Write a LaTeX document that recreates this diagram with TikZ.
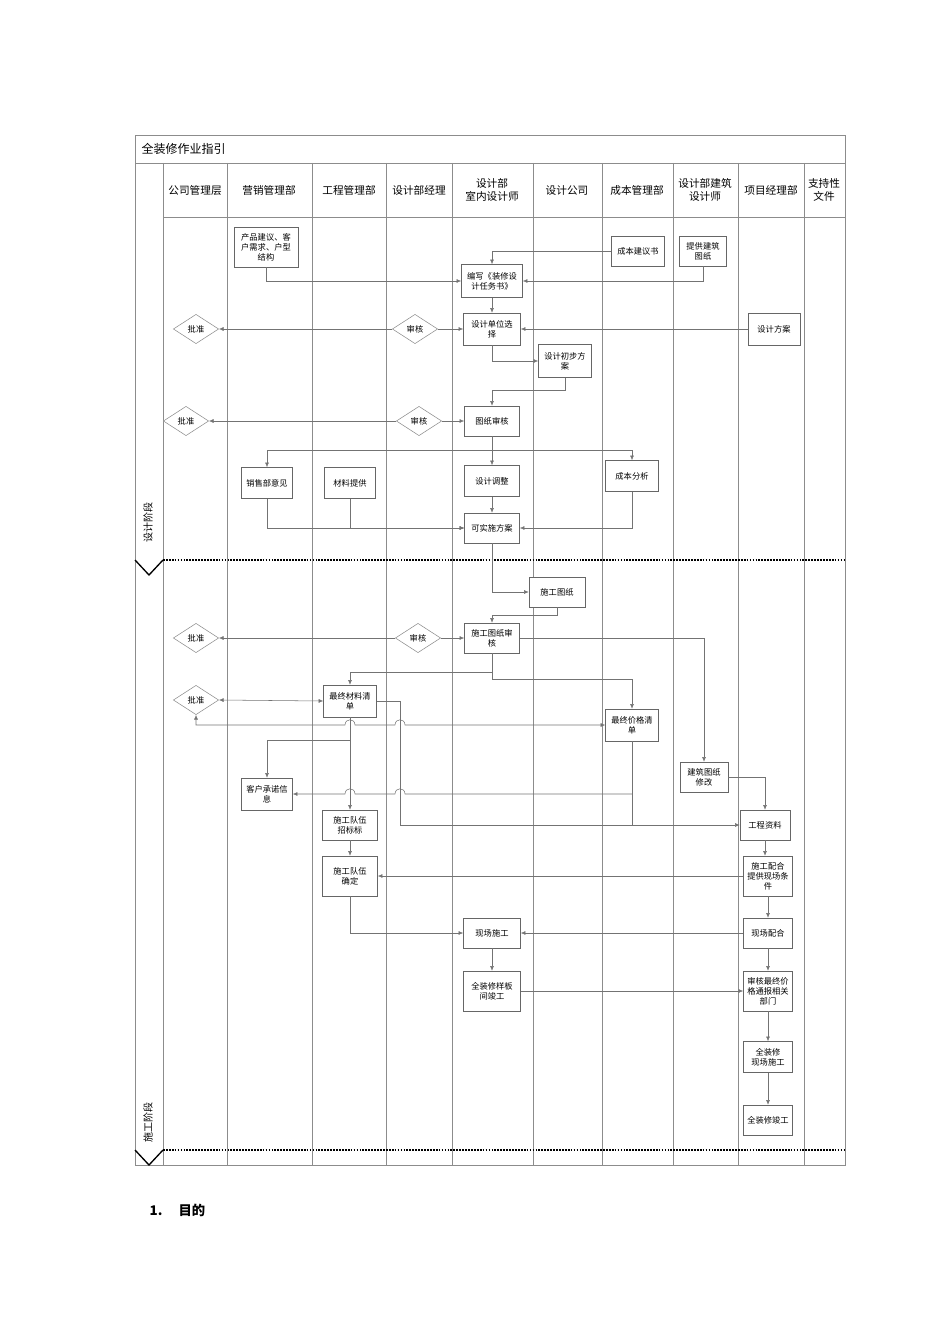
\documentclass[tikz,border=0pt]{standalone}
\usepackage{fontspec}
\newfontfamily\cjk{Noto Sans CJK SC}
\usetikzlibrary{arrows.meta,shapes.geometric}
\tikzset{
  box/.style={draw=black!60,fill=white,align=center,inner sep=1pt,font=\cjk\fontsize{6.2}{7.5}\selectfont,drop/.style={}},
  dia/.style={diamond,draw=black!45,fill=white,aspect=1.6,inner sep=1pt,minimum width=34pt,minimum height=22pt,font=\cjk\fontsize{6.2}{7.5}\selectfont},
  ln/.style={draw=black!55,line width=0.4pt},
  arr/.style={ln,-{Latex[length=3.5pt,width=3pt]}},
  barr/.style={ln,{Latex[length=3.5pt,width=3pt]}-{Latex[length=3.5pt,width=3pt]}},
  grid/.style={draw=black!45,line width=0.4pt},
  sep/.style={draw=black,line width=2.2pt,dash pattern=on 1.3pt off 0.9pt},
  hdr/.style={align=center,font=\cjk\fontsize{8}{10}\selectfont}
}
\newcommand\bx[5]{\node[box,minimum width=#3*0.75pt,minimum height=#4*0.75pt] (#1) at (#2) {#5};}
\begin{document}
\begin{tikzpicture}[x=0.75pt,y=-0.75pt]
\useasboundingbox (0,0) rectangle (950,1344);
% frame
\draw[grid] (135,135) rectangle (845,1165);
\draw[grid] (135,163) -- (845,163);
\draw[grid] (163,217) -- (845,217);
\foreach \x in {163,227,312,386,452,533,602,673,738,804} \draw[grid] (\x,163) -- (\x,1165);
\node[anchor=west,font=\cjk\fontsize{9}{11}\selectfont] (title) at (137,149) {全装修作业指引};
\node[hdr] (h1) at (195,190) {公司管理层};
\node[hdr] (h2) at (269,190) {营销管理部};
\node[hdr] (h3) at (349,190) {工程管理部};
\node[hdr] (h4) at (419,190) {设计部经理};
\node[hdr] (h5) at (492,190) {设计部\\室内设计师};
\node[hdr] (h6) at (567,190) {设计公司};
\node[hdr] (h7) at (637,190) {成本管理部};
\node[hdr] (h8) at (705,190) {设计部建筑\\设计师};
\node[hdr] (h9) at (771,190) {项目经理部};
\node[hdr] (h10) at (824,190) {支持性\\文件};
% phases
\draw[sep] (163,560) -- (845,560);
\draw[sep] (163,1150) -- (845,1150);
\draw[black,line width=1pt] (135,560) -- (149,575) -- (163,560);
\draw[black,line width=1pt] (135,1150) -- (149,1165) -- (163,1150);
\node[rotate=90,font=\cjk\fontsize{7.5}{9}\selectfont] (p1) at (148,522) {设计阶段};
\node[rotate=90,font=\cjk\fontsize{7.5}{9}\selectfont] (p2) at (148,1122) {施工阶段};
% nodes
\bx{prod}{266,247}{64}{40}{产品建议、客\\户需求、户型\\结构}
\bx{cbs}{638,251}{53}{30}{成本建议书}
\bx{tg}{703,251}{47}{30}{提供建筑\\图纸}
\bx{bw}{492,281}{61}{33}{编写《装修设\\计任务书》}
\bx{dx}{492,329}{57}{32}{设计单位选\\择}
\bx{fa}{774,329}{52}{32}{设计方案}
\node[dia] (pz1) at (196,329) {批准};
\node[dia] (sh1) at (415,329) {审核};
\bx{cb}{565,361}{53}{33}{设计初步方\\案}
\bx{tz}{492,421}{55}{30}{图纸审核}
\node[dia] (pz2) at (186,421) {批准};
\node[dia] (sh2) at (419,421) {审核};
\bx{xs}{267,483}{51}{31}{销售部意见}
\bx{cl}{350,483}{51}{31}{材料提供}
\bx{tj}{492,481}{55}{31}{设计调整}
\bx{cf}{632,476}{53}{31}{成本分析}
\bx{ks}{492,528}{55}{30}{可实施方案}
\bx{sg}{557,592}{56}{30}{施工图纸}
\bx{sgs}{492,638}{55}{30}{施工图纸审\\核}
\node[dia] (pz3) at (196,638) {批准};
\node[dia] (sh3) at (418,638) {审核};
\bx{zc}{350,701}{53}{32}{最终材料清\\单}
\node[dia] (pz4) at (196,700) {批准};
\bx{zj}{632,725}{53}{32}{最终价格清\\单}
\bx{kh}{267,794}{51}{32}{客户承诺信\\息}
\bx{jz}{704,777}{48}{30}{建筑图纸\\修改}
\bx{gz}{765,825}{50}{30}{工程资料}
\bx{zt}{350,825}{55}{30}{施工队伍\\招标标}
\bx{qd}{350,876}{55}{40}{施工队伍\\确定}
\bx{gp}{768,876}{49}{40}{施工配合\\提供现场条\\件}
\bx{xsg}{492,933}{57}{30}{现场施工}
\bx{xp}{768,933}{49}{30}{现场配合}
\bx{yb}{492,991}{57}{40}{全装修样板\\间竣工}
\bx{shz}{768,991}{49}{40}{审核最终价\\格通报相关\\部门}
\bx{qs}{768,1057}{49}{31}{全装修\\现场施工}
\bx{qj}{768,1120}{49}{30}{全装修竣工}
% edges
\draw[arr] (prod.south) |- (bw.west);
\draw[arr] (cbs.west) -| (bw.north);
\draw[arr] (tg.south) |- (bw.east);
\draw[arr] (bw) -- (dx);
\draw[arr] (sh1) -- (dx);
\draw[arr] (sh1) -- (pz1);
\draw[arr] (fa) -- (dx);
\draw[arr] (dx.south) |- (cb.west);
\draw[arr] (cb.south) -- ++(0,12) -| (tz.north);
\draw[arr] (sh2) -- (tz);
\draw[arr] (sh2) -- (pz2);
\coordinate (br) at (492,450);
\draw[ln] (tz.south) -- (br);
\draw[arr] (br) -- (tj.north);
\draw[arr] (br) -| (xs.north);
\draw[arr] (br) -| (cf.north);
\draw[arr] (xs.south) |- (ks.west);
\draw[arr] (cl.south) |- (ks.west);
\draw[arr] (cf.south) |- (ks.east);
\draw[arr] (tj) -- (ks);
\draw[arr] (ks.south) |- (sg.west);
\draw[arr] (sg.south) -- ++(0,8) -| (sgs.north);
\draw[arr] (sh3) -- (sgs);
\draw[arr] (sh3) -- (pz3);
\draw[arr] (sgs.east) -| (jz.north);
\draw[arr] (sgs.south) -- ++(0,19) -| (zc.north);
\draw[arr] (sgs.south) -- ++(0,26) -| (zj.north);
\draw[barr] (pz4.east) -- (zc.west);
\draw[barr] (pz4.south) -- (196,725) -- (345,725) .. controls (345,718) and (355,718) .. (355,725) -- (395,725) .. controls (395,718) and (405,718) .. (405,725) -- (zj.west);
\draw[arr] (zc.east) -| (400,825) -- (gz.west);
\draw[ln] (zj.south) -- (zj.south |- gz.west);
\draw[arr] (zj.south |- kh.east) -- (405,794) .. controls (405,787) and (395,787) .. (395,794) -- (355,794) .. controls (355,787) and (345,787) .. (345,794) -- (kh.east);
\draw[arr] (zc.south) -- (zt.north);
\draw[arr] (350,740) -| (kh.north);
\draw[arr] (jz.east) -| (gz.north);
\draw[arr] (zt) -- (qd);
\draw[arr] (gz) -- (gz |- gp.north);
\draw[arr] (gp.west) -- (qd.east);
\draw[arr] (gp) -- (xp);
\draw[arr] (qd.south) |- (xsg.west);
\draw[arr] (xp.west) -- (xsg.east);
\draw[arr] (xsg) -- (yb);
\draw[arr] (yb.east) -- (shz.west);
\draw[arr] (xp) -- (shz);
\draw[arr] (shz) -- (qs);
\draw[arr] (qs) -- (qj);
% footer
\node[anchor=west,font=\cjk\bfseries\fontsize{10}{12}\selectfont] (ft) at (145,1210) {1.\hspace{12pt}目的};
\end{tikzpicture}
\end{document}
